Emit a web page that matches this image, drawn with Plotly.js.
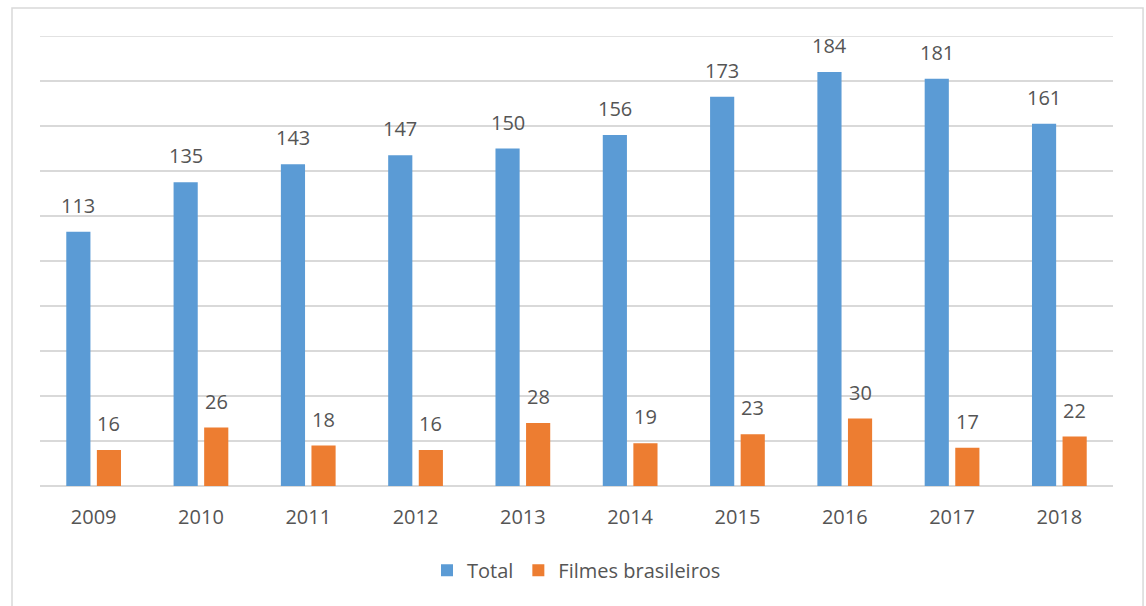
<!DOCTYPE html>
<html>
<head>
<meta charset="utf-8">
<script src="https://cdn.plot.ly/plotly-3.0.1.min.js"></script>
<style>
  html, body { margin: 0; padding: 0; background: #fff; overflow: hidden; }
  #chart { width: 1146px; height: 606px; }
</style>
</head>
<body>
<div id="chart"></div>
<script>
// Films released per year: total vs. Brazilian productions
const years = ['2009', '2010', '2011', '2012', '2013', '2014', '2015', '2016', '2017', '2018'];
const total = [113, 135, 143, 147, 150, 156, 173, 184, 181, 161];
const brasileiros = [16, 26, 18, 16, 28, 19, 23, 30, 17, 22];
const seriesNames = ['Total', 'Filmes brasileiros'];

const BLUE = '#5B9BD5';
const ORANGE = '#ED7D31';
const TEXT = '#555555';
const GRID = '#D9D9D9';
const FONT = 'Open Sans, Noto Sans, sans-serif';
const Y_MAX = 200;

const traces = [
  { type: 'bar', name: seriesNames[0], x: years, y: total, marker: { color: BLUE }, hoverinfo: 'x+y' },
  { type: 'bar', name: seriesNames[1], x: years, y: brasileiros, marker: { color: ORANGE }, hoverinfo: 'x+y' }
];

// value labels above each bar, offset to the bar's slot within its group
const labelOffset = 15.3;
const annotations = [];
[total, brasileiros].forEach((series, s) => {
  series.forEach((v, i) => {
    annotations.push({
      x: i, y: v, xref: 'x', yref: 'y',
      text: String(v), showarrow: false,
      xanchor: 'center', yanchor: 'bottom',
      xshift: s === 0 ? -labelOffset : labelOffset, yshift: 11,
      font: { family: FONT, size: 20, color: TEXT }
    });
  });
});

const layout = {
  width: 1146, height: 606,
  margin: { l: 40, r: 33, t: 36, b: 120 },
  paper_bgcolor: '#ffffff', plot_bgcolor: '#ffffff',
  barmode: 'group', bargap: 0.43, bargroupgap: 0.21,
  font: { family: FONT, color: TEXT },
  xaxis: {
    type: 'category', range: [-0.5, years.length - 0.5], autorange: false,
    showgrid: false, showline: false, ticks: '', zeroline: false,
    tickfont: { family: FONT, size: 20, color: TEXT }, ticklabelstandoff: 17
  },
  yaxis: {
    range: [0, Y_MAX], autorange: false, dtick: 20, showticklabels: false, ticks: '',
    showgrid: true, gridcolor: GRID, gridwidth: 1.5,
    zeroline: true, zerolinecolor: GRID, zerolinewidth: 1.5, showline: false
  },
  showlegend: true,
  legend: {
    orientation: 'h', x: 0.5, xanchor: 'center', y: -0.187, yanchor: 'middle',
    font: { family: FONT, size: 20, color: TEXT }, itemwidth: 30, traceorder: 'normal'
  },
  annotations: annotations,
  shapes: [
    // top gridline at the edge of the value range
    {
      type: 'line', xref: 'paper', yref: 'y', x0: 0, x1: 1, y0: Y_MAX, y1: Y_MAX,
      line: { color: GRID, width: 1.5 }, layer: 'below'
    },
    // chart frame
    {
      type: 'rect', xref: 'paper', yref: 'paper',
      x0: -0.0261, x1: 1.028, y0: -0.4, y1: 1.062,
      line: { color: '#D9D9D9', width: 1.5 }, fillcolor: 'rgba(0,0,0,0)', layer: 'below'
    }
  ]
};

Plotly.newPlot('chart', traces, layout, { displayModeBar: false, staticPlot: true });
</script>
</body>
</html>
